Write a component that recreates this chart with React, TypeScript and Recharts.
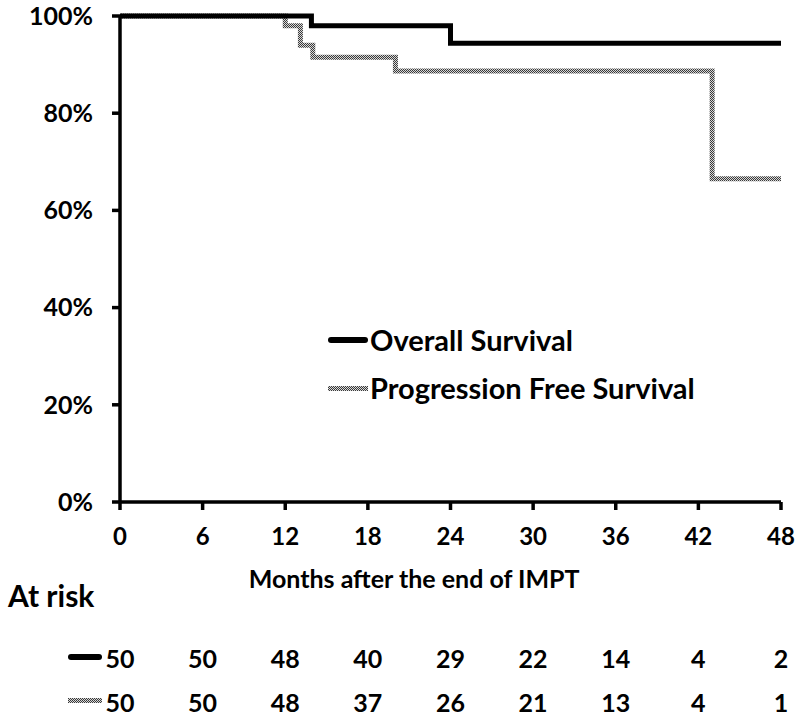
import React from "react";
import {LineChart, Line, XAxis, YAxis} from "recharts";

// time in months, survival in %
const osTime = [0, 13.9, 24, 48];
const osSurv = [100, 98, 94.4, 94.4];
const pfsTime = [0, 12, 13.1, 14, 20, 43, 48];
const pfsSurv = [100, 98, 94, 91.5, 88.7, 66.5, 66.5];

const monthTicks = [0, 6, 12, 18, 24, 30, 36, 42, 48];
const pctTicks = [0, 20, 40, 60, 80, 100];
const osAtRisk = [50, 50, 48, 40, 29, 22, 14, 4, 2];
const pfsAtRisk = [50, 50, 48, 37, 26, 21, 13, 4, 1];

const osData = osTime.map((t, i) => ({t, s: osSurv[i]}));
const pfsData = pfsTime.map((t, i) => ({t, s: pfsSurv[i]}));

const FONT = "Lato, 'Open Sans', sans-serif";
const DITHER = "url(#dither)";

const Swatch = ({dither}: {dither?: boolean}) => (
    <svg width={40} height={6} style={{marginRight: 2}}>
        <rect x={0} y={dither ? 1 : 0} width={40} height={dither ? 5 : 6} fill={dither ? DITHER : "#000"}
              rx={dither ? 0 : 3}/>
    </svg>
);

const LegendBox = () => (
    <div style={{
        position: "absolute", left: 328, top: 316, fontFamily: FONT, fontWeight: 700, fontSize: 29,
        color: "#000", lineHeight: "48px"
    }}>
        <div style={{display: "flex", alignItems: "center"}}><Swatch/>Overall Survival</div>
        <div style={{display: "flex", alignItems: "center"}}><Swatch dither/>Progression Free Survival</div>
    </div>
);

const riskTick = (values: number[], dither: boolean) => (props: any) => {
    const {x, y, index} = props;
    return (
        <g>
            {index === 0 && (
                <rect x={x - 52} y={y + 42} width={34} height={dither ? 5 : 6} rx={dither ? 0 : 3}
                      fill={dither ? DITHER : "#000"}/>
            )}
            <text x={x} y={y + 56} textAnchor="middle" fontFamily={FONT} fontWeight={700}
                  fontSize={25} fill="#000">{values[index]}</text>
        </g>
    );
};

const AxisTitle = (props: any) => {
    const {viewBox} = props;
    return (
        <g fontFamily={FONT} fontWeight={700} fill="#000">
            <text x={viewBox.x + viewBox.width * 0.445} y={viewBox.y + 86} textAnchor="middle" fontSize={25}>
                Months after the end of IMPT
            </text>
            <text x={8} y={viewBox.y + 105} fontSize={30}>At risk</text>
        </g>
    );
};

export default function App() {
    return (
        <div style={{position: "absolute", left: 0, top: 0, width: 800, height: 718, background: "#fff"}}>
            <LineChart width={800} height={718} margin={{top: 16, right: 19, left: 0, bottom: 21}}>
                <defs>
                    <pattern id="dither" width={2} height={2} patternUnits="userSpaceOnUse">
                        <rect width={2} height={2} fill="#d8d8d8"/>
                        <rect width={1} height={1} fill="#3a3a3a"/>
                        <rect x={1} y={1} width={1} height={1} fill="#3a3a3a"/>
                    </pattern>
                </defs>
                <XAxis xAxisId="main" dataKey="t" type="number" domain={[0, 48]} ticks={monthTicks}
                       allowDataOverflow height={110} tickSize={8} tickMargin={18}
                       stroke="#000" strokeWidth={3.5}
                       tick={{fill: "#000", fontFamily: FONT, fontWeight: 700, fontSize: 24}}
                       label={<AxisTitle/>}/>
                <XAxis xAxisId="os" dataKey="t" type="number" domain={[0, 48]} ticks={monthTicks}
                       allowDataOverflow height={44} axisLine={false} tickLine={false} tickSize={0} tickMargin={0}
                       tick={riskTick(osAtRisk, false)}/>
                <XAxis xAxisId="pfs" dataKey="t" type="number" domain={[0, 48]} ticks={monthTicks}
                       allowDataOverflow height={41} axisLine={false} tickLine={false} tickSize={0} tickMargin={0}
                       tick={riskTick(pfsAtRisk, true)}/>
                <YAxis type="number" domain={[0, 100]} ticks={pctTicks} width={120} tickSize={8} tickMargin={19}
                       stroke="#000" strokeWidth={3.5} tickFormatter={(v) => `${v}%`}
                       tick={{fill: "#000", fontFamily: FONT, fontWeight: 700, fontSize: 25}}/>
                <Line xAxisId="main" data={pfsData} dataKey="s" type="stepAfter" stroke={DITHER}
                      strokeWidth={5} dot={false} isAnimationActive={false} name="Progression Free Survival"/>
                <Line xAxisId="main" data={osData} dataKey="s" type="stepAfter" stroke="#000"
                      strokeWidth={5} dot={false} isAnimationActive={false} name="Overall Survival"/>
            </LineChart>
            <LegendBox/>
        </div>
    );
}
